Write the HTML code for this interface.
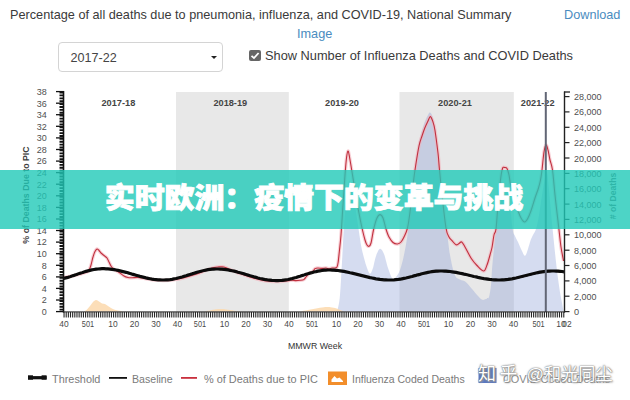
<!DOCTYPE html>
<html><head><meta charset="utf-8"><title>chart</title>
<style>
html,body{margin:0;padding:0;background:#fff;}
body{width:630px;height:400px;position:relative;overflow:hidden;font-family:"Liberation Sans","Noto Sans CJK SC",sans-serif;}
.t{position:absolute;white-space:nowrap;color:#3a3a3a;font-size:12.7px;line-height:16px;}
.lnk{color:#4a8cc0;}
#sel{position:absolute;left:58px;top:41.5px;width:163px;height:28px;border:1px solid #d4d4d4;border-radius:4px;background:#fff;}
#sel span{position:absolute;left:11.5px;top:7px;font-size:12.6px;color:#444;line-height:16px;}
#sel i{position:absolute;right:5.2px;top:13.3px;width:0;height:0;border-left:3.6px solid transparent;border-right:3.6px solid transparent;border-top:3.6px solid #222;}
#cb{position:absolute;left:249px;top:49.8px;width:12px;height:11.2px;background:#666;border-radius:2px;}
#banner{position:absolute;left:0;top:170px;width:630px;height:58.6px;background:rgba(32,201,184,0.8);text-align:center;}
#banner span{display:inline-block;line-height:58px;font-size:30px;font-weight:900;color:#fff;font-family:"Liberation Sans","Noto Sans CJK SC",sans-serif;letter-spacing:-0.12px;margin-left:-2px;-webkit-text-stroke:0.9px #fff;transform:translateY(-0.4px) scaleY(0.95);transform-origin:50% 52%;}
svg{position:absolute;left:0;top:0;}
.leg{position:absolute;top:371.6px;font-size:10.9px;color:#7a7a7a;line-height:14px;white-space:nowrap;}
#wm{position:absolute;left:478px;top:362px;font-size:18px;line-height:24px;color:#fff;white-space:nowrap;font-family:"Liberation Sans","Noto Sans CJK SC",sans-serif;text-shadow:0 0 2px #777,0 0 1px #666,1px 1px 2px #aaa;letter-spacing:0.6px;}
</style></head><body>
<div class="t" style="left:10px;top:7px;">Percentage of all deaths due to pneumonia, influenza, and COVID-19, National Summary</div>
<div class="t lnk" style="left:564px;top:7px;">Download</div>
<div class="t lnk" style="left:297px;top:26px;">Image</div>
<div id="sel"><span>2017-22</span><i></i></div>
<div id="cb"><svg width="12" height="11.2" viewBox="0 0 12 12" preserveAspectRatio="none"><path d="M2.5,6.2 L5,8.6 L9.6,3.2" fill="none" stroke="#fff" stroke-width="1.8"/></svg></div>
<div class="t" style="left:265px;top:48.1px;font-size:12.8px;">Show Number of Influenza Deaths and COVID Deaths</div>

<svg width="630" height="400" viewBox="0 0 630 400" font-family="Liberation Sans, sans-serif">
  <rect x="176" y="92" width="112.8" height="221" fill="#e8e8e8"/>
  <rect x="399.5" y="92" width="114.3" height="221" fill="#e8e8e8"/>
  <path d="M336.0,311.6C336.3,311.0 337.3,310.8 338.0,308.0C338.7,305.2 339.3,302.7 340.0,295.0C340.7,287.3 341.3,273.7 342.0,262.0C342.7,250.3 343.3,235.3 344.0,225.0C344.7,214.7 345.2,207.3 346.0,200.0C346.8,192.7 348.0,182.7 349.0,181.0C350.0,179.3 351.0,186.0 352.0,190.0C353.0,194.0 354.0,199.2 355.0,205.0C356.0,210.8 357.0,218.3 358.0,225.0C359.0,231.7 360.0,239.5 361.0,245.0C362.0,250.5 363.0,254.2 364.0,258.0C365.0,261.8 366.0,265.4 367.0,268.0C368.0,270.6 369.0,273.7 370.0,273.7C371.0,273.7 372.0,270.9 373.0,268.0C374.0,265.1 374.8,259.2 376.0,256.0C377.2,252.8 378.7,249.0 380.0,248.7C381.3,248.4 382.7,250.8 384.0,254.0C385.3,257.2 386.6,263.9 388.0,268.0C389.4,272.1 391.2,277.2 392.5,278.7C393.8,280.2 394.8,278.4 396.0,277.0C397.2,275.6 398.7,273.7 400.0,270.0C401.3,266.3 402.8,260.8 404.0,255.0C405.2,249.2 406.3,243.3 407.5,235.0C408.7,226.7 409.8,216.2 411.0,205.0C412.2,193.8 413.7,178.5 415.0,168.0C416.3,157.5 417.5,149.3 419.0,142.0C420.5,134.7 422.5,128.5 424.0,124.0C425.5,119.5 427.0,116.9 428.0,115.0C429.0,113.1 429.2,112.0 430.0,112.5C430.8,113.0 432.0,114.2 433.0,118.0C434.0,121.8 435.0,127.2 436.0,135.0C437.0,142.8 438.0,154.2 439.0,165.0C440.0,175.8 441.0,190.5 442.0,200.0C443.0,209.5 444.2,216.7 445.0,222.0C445.8,227.3 446.2,226.5 447.0,232.0C447.8,237.5 448.7,247.8 450.0,255.0C451.3,262.2 453.1,270.9 454.8,275.0C456.5,279.1 458.2,278.3 460.0,279.5C461.8,280.7 463.8,280.4 465.8,282.0C467.8,283.6 470.0,286.7 472.0,289.0C474.0,291.3 476.3,294.2 478.0,296.0C479.7,297.8 481.0,299.3 482.3,299.8C483.6,300.3 484.9,299.5 486.0,299.0C487.1,298.5 488.2,299.3 489.0,297.0C489.8,294.7 490.5,289.6 491.0,285.0C491.5,280.4 491.5,275.7 492.0,269.5C492.5,263.3 493.3,254.8 494.0,248.0C494.7,241.2 495.2,235.7 496.0,229.0C496.8,222.3 497.8,213.5 499.0,208.0C500.2,202.5 501.8,198.6 503.0,196.0C504.2,193.4 505.0,192.3 506.0,192.6C507.0,192.9 507.9,191.9 509.0,198.0C510.1,204.1 511.6,222.7 512.6,229.0C513.6,235.3 514.1,233.8 515.0,236.0C515.9,238.2 516.9,239.7 518.0,242.0C519.1,244.3 520.3,247.7 521.5,250.0C522.7,252.3 523.9,256.0 525.0,255.8C526.1,255.6 527.1,251.5 528.0,249.0C528.9,246.5 529.7,242.9 530.5,240.6C531.3,238.3 532.1,236.9 533.0,235.0C533.9,233.1 535.0,232.3 536.0,229.0C537.0,225.7 538.0,220.7 539.0,215.0C540.0,209.3 541.0,201.2 542.0,195.0C543.0,188.8 544.2,181.8 545.0,178.0C545.8,174.2 546.3,170.0 547.0,172.0C547.7,174.0 548.1,180.5 549.0,190.0C549.9,199.5 551.4,217.0 552.6,229.0C553.8,241.0 554.9,252.0 556.0,262.0C557.1,272.0 558.5,282.2 559.5,289.0C560.5,295.8 561.3,299.2 562.0,303.0C562.7,306.8 563.3,310.2 563.6,311.6Z" fill="#879bd4" fill-opacity="0.35"/>
  <path d="M84.0,311.6C84.5,311.2 86.0,310.4 87.0,309.5C88.0,308.6 89.0,307.2 90.0,306.0C91.0,304.8 92.0,303.0 93.0,302.0C94.0,301.0 95.0,300.1 96.0,300.0C97.0,299.9 98.0,300.9 99.0,301.5C100.0,302.1 101.0,303.1 102.0,303.5C103.0,303.9 104.0,303.6 105.0,304.0C106.0,304.4 107.0,305.3 108.0,306.0C109.0,306.7 110.0,307.4 111.0,308.0C112.0,308.6 112.8,309.1 114.0,309.5C115.2,309.9 116.3,310.1 118.0,310.5C119.7,310.9 123.0,311.4 124.0,311.6Z M203.0,311.6C204.2,311.4 207.8,310.9 210.0,310.5C212.2,310.1 214.0,309.6 216.0,309.3C218.0,309.1 220.0,308.9 222.0,309.0C224.0,309.1 225.7,309.5 228.0,309.8C230.3,310.1 233.7,310.7 236.0,311.0C238.3,311.3 241.0,311.5 242.0,311.6Z M300.0,311.6C301.3,311.3 305.3,310.5 308.0,310.0C310.7,309.5 313.3,309.0 316.0,308.5C318.7,308.0 321.3,307.4 324.0,307.2C326.7,307.0 329.7,307.2 332.0,307.5C334.3,307.8 336.0,308.3 338.0,309.0C340.0,309.7 343.0,311.2 344.0,311.6Z" fill="#fcd8ac" fill-opacity="0.85"/>
  <g font-size="9.7" font-weight="bold" fill="#444"><text x="101.5" y="106.3" textLength="33.8" lengthAdjust="spacingAndGlyphs">2017-18</text><text x="213.4" y="106.3" textLength="33.8" lengthAdjust="spacingAndGlyphs">2018-19</text><text x="325.1" y="106.3" textLength="33.8" lengthAdjust="spacingAndGlyphs">2019-20</text><text x="438.1" y="106.3" textLength="33.8" lengthAdjust="spacingAndGlyphs">2020-21</text><text x="520.8" y="106.3" textLength="33.8" lengthAdjust="spacingAndGlyphs">2021-22</text></g>
  <path d="M64.0,277.5C65.0,277.3 68.0,276.9 70.0,276.5C72.0,276.1 74.0,275.5 76.0,275.0C78.0,274.5 80.2,274.0 82.0,273.5C83.8,273.0 85.8,272.5 87.0,272.0C88.2,271.5 88.3,271.7 89.0,270.5C89.7,269.3 90.3,267.2 91.0,265.0C91.7,262.8 92.3,259.2 93.0,257.0C93.7,254.8 94.3,252.8 95.0,251.5C95.7,250.2 96.3,249.2 97.0,249.0C97.7,248.8 98.3,249.8 99.0,250.5C99.7,251.2 100.2,252.2 101.0,253.0C101.8,253.8 103.0,254.7 104.0,255.5C105.0,256.3 106.2,256.9 107.0,258.0C107.8,259.1 108.3,260.7 109.0,262.0C109.7,263.3 110.3,264.9 111.0,266.0C111.7,267.1 112.2,267.8 113.0,268.5C113.8,269.2 114.8,269.8 116.0,270.5C117.2,271.2 118.7,272.1 120.0,273.0C121.3,273.9 122.7,275.2 124.0,276.0C125.3,276.8 126.7,277.2 128.0,277.5C129.3,277.8 130.3,277.7 132.0,277.7C133.7,277.7 135.8,277.4 138.0,277.5C140.2,277.6 142.2,278.1 145.0,278.5C147.8,278.9 151.8,279.7 155.0,280.0C158.2,280.3 160.7,280.6 164.0,280.5C167.3,280.4 171.5,280.0 175.0,279.5C178.5,279.0 181.7,278.3 185.0,277.5C188.3,276.7 191.7,275.6 195.0,274.5C198.3,273.4 202.5,271.6 205.0,270.6C207.5,269.7 208.5,269.3 210.0,268.8C211.5,268.3 212.7,267.9 214.0,267.6C215.3,267.3 216.7,267.1 218.0,267.0C219.3,266.9 220.7,266.7 222.0,266.8C223.3,266.9 224.7,267.3 226.0,267.8C227.3,268.3 228.5,269.0 230.0,269.6C231.5,270.2 233.3,270.9 235.0,271.5C236.7,272.1 237.5,272.6 240.0,273.5C242.5,274.4 246.7,275.9 250.0,277.0C253.3,278.1 256.7,279.1 260.0,279.8C263.3,280.5 266.7,281.0 270.0,281.3C273.3,281.6 277.0,281.6 280.0,281.5C283.0,281.4 286.0,280.8 288.0,280.6C290.0,280.4 290.7,280.2 292.0,280.2C293.3,280.2 294.7,280.6 296.0,280.6C297.3,280.6 298.7,280.5 300.0,280.3C301.3,280.1 303.0,279.9 304.0,279.4C305.0,278.8 305.3,277.8 306.0,277.0C306.7,276.2 307.3,275.2 308.0,274.5C308.7,273.8 309.2,273.5 310.0,273.0C310.8,272.5 312.2,272.0 313.0,271.3C313.8,270.6 314.2,269.2 315.0,268.6C315.8,268.1 316.8,268.0 318.0,268.0C319.2,268.0 320.7,268.4 322.0,268.4C323.3,268.4 324.8,267.9 326.0,268.0C327.2,268.1 328.0,268.8 329.0,268.8C330.0,268.8 331.0,268.1 332.0,268.0C333.0,267.9 334.2,268.2 335.0,268.0C335.8,267.8 336.5,268.0 337.0,267.0C337.5,266.0 337.8,264.8 338.2,262.0C338.6,259.2 339.0,254.5 339.5,250.0C340.0,245.5 340.4,242.5 341.0,235.0C341.6,227.5 342.3,215.0 343.0,205.0C343.7,195.0 344.4,182.8 345.0,175.0C345.6,167.2 346.0,162.0 346.5,158.0C347.0,154.0 347.5,151.2 348.0,151.0C348.5,150.8 348.9,153.8 349.5,157.0C350.1,160.2 350.8,164.5 351.7,170.0C352.6,175.5 353.9,183.7 355.0,190.0C356.1,196.3 356.8,201.7 358.0,208.0C359.2,214.3 360.8,222.7 362.0,228.0C363.2,233.3 364.2,237.2 365.0,240.0C365.8,242.8 366.3,243.9 367.0,245.0C367.7,246.1 368.3,246.6 369.0,246.3C369.7,246.0 370.2,245.9 371.0,243.0C371.8,240.1 372.7,233.2 373.7,229.0C374.7,224.8 375.9,220.4 377.0,218.0C378.1,215.6 379.0,214.6 380.0,214.6C381.0,214.6 382.0,215.6 383.0,218.0C384.0,220.4 385.0,225.8 386.0,229.0C387.0,232.2 387.8,234.8 389.0,237.0C390.2,239.2 391.6,241.3 393.0,242.5C394.4,243.7 396.2,244.1 397.5,244.0C398.8,243.9 399.9,243.2 401.0,242.0C402.1,240.8 402.9,239.3 404.0,237.0C405.1,234.7 406.5,232.2 407.5,228.0C408.5,223.8 409.2,218.3 410.0,212.0C410.8,205.7 411.7,197.0 412.5,190.0C413.3,183.0 413.9,177.3 415.0,170.0C416.1,162.7 417.8,151.7 419.0,146.0C420.2,140.3 421.0,139.0 422.0,136.0C423.0,133.0 423.8,130.5 424.8,128.0C425.8,125.5 427.1,122.9 428.0,121.0C428.9,119.1 429.6,116.4 430.4,116.6C431.2,116.8 432.2,119.7 433.0,122.0C433.8,124.3 434.2,125.3 435.0,130.5C435.8,135.7 437.2,146.4 438.0,153.0C438.8,159.6 438.8,163.0 439.5,170.0C440.2,177.0 440.9,185.3 442.0,195.0C443.1,204.7 444.8,221.0 446.0,228.0C447.2,235.0 448.0,234.9 449.0,237.0C450.0,239.1 450.8,239.3 452.0,240.6C453.2,241.9 454.8,244.3 456.0,244.8C457.2,245.3 458.1,244.0 459.0,243.5C459.9,243.0 460.7,241.4 461.7,242.0C462.7,242.6 463.4,244.2 465.0,247.0C466.6,249.8 469.3,255.4 471.3,258.5C473.3,261.6 474.9,263.4 477.0,265.5C479.1,267.6 482.0,271.1 483.7,271.0C485.4,270.9 485.9,267.7 487.0,265.0C488.1,262.3 489.2,257.9 490.0,255.0C490.8,252.1 491.3,250.8 492.0,247.5C492.7,244.2 493.3,238.1 494.0,235.0C494.7,231.9 495.3,234.0 496.0,229.0C496.7,224.0 497.2,213.2 498.0,205.0C498.8,196.8 499.8,186.1 500.5,180.0C501.2,173.9 501.8,170.6 502.5,168.5C503.2,166.4 503.9,167.5 504.7,167.5C505.4,167.5 506.3,167.2 507.0,168.5C507.7,169.8 508.4,172.2 509.0,175.0C509.6,177.8 509.8,181.2 510.6,185.0C511.4,188.8 512.8,193.7 514.0,198.0C515.2,202.3 516.8,207.5 518.0,210.8C519.2,214.1 519.9,216.1 521.0,218.0C522.1,219.9 523.4,222.0 524.6,222.0C525.8,222.0 526.9,219.9 528.0,218.0C529.1,216.1 529.8,214.1 531.0,210.8C532.2,207.5 533.8,201.8 535.0,198.0C536.2,194.2 537.6,191.0 538.5,188.0C539.4,185.0 539.9,183.0 540.5,180.0C541.1,177.0 541.4,174.7 542.0,170.0C542.6,165.3 543.3,156.2 544.0,152.0C544.7,147.8 545.3,145.3 546.0,145.0C546.7,144.7 547.3,147.5 548.0,150.0C548.7,152.5 549.2,156.7 550.0,160.0C550.8,163.3 551.7,164.2 552.5,170.0C553.3,175.8 554.0,185.3 555.0,195.0C556.0,204.7 557.8,219.3 558.8,228.0C559.8,236.7 560.2,241.5 561.0,247.0C561.8,252.5 563.2,258.7 563.6,261.0" fill="none" stroke="#f4b0ba" stroke-width="3.4" stroke-opacity="0.6" stroke-linejoin="round"/>
  <path d="M64.0,277.5C65.0,277.3 68.0,276.9 70.0,276.5C72.0,276.1 74.0,275.5 76.0,275.0C78.0,274.5 80.2,274.0 82.0,273.5C83.8,273.0 85.8,272.5 87.0,272.0C88.2,271.5 88.3,271.7 89.0,270.5C89.7,269.3 90.3,267.2 91.0,265.0C91.7,262.8 92.3,259.2 93.0,257.0C93.7,254.8 94.3,252.8 95.0,251.5C95.7,250.2 96.3,249.2 97.0,249.0C97.7,248.8 98.3,249.8 99.0,250.5C99.7,251.2 100.2,252.2 101.0,253.0C101.8,253.8 103.0,254.7 104.0,255.5C105.0,256.3 106.2,256.9 107.0,258.0C107.8,259.1 108.3,260.7 109.0,262.0C109.7,263.3 110.3,264.9 111.0,266.0C111.7,267.1 112.2,267.8 113.0,268.5C113.8,269.2 114.8,269.8 116.0,270.5C117.2,271.2 118.7,272.1 120.0,273.0C121.3,273.9 122.7,275.2 124.0,276.0C125.3,276.8 126.7,277.2 128.0,277.5C129.3,277.8 130.3,277.7 132.0,277.7C133.7,277.7 135.8,277.4 138.0,277.5C140.2,277.6 142.2,278.1 145.0,278.5C147.8,278.9 151.8,279.7 155.0,280.0C158.2,280.3 160.7,280.6 164.0,280.5C167.3,280.4 171.5,280.0 175.0,279.5C178.5,279.0 181.7,278.3 185.0,277.5C188.3,276.7 191.7,275.6 195.0,274.5C198.3,273.4 202.5,271.6 205.0,270.6C207.5,269.7 208.5,269.3 210.0,268.8C211.5,268.3 212.7,267.9 214.0,267.6C215.3,267.3 216.7,267.1 218.0,267.0C219.3,266.9 220.7,266.7 222.0,266.8C223.3,266.9 224.7,267.3 226.0,267.8C227.3,268.3 228.5,269.0 230.0,269.6C231.5,270.2 233.3,270.9 235.0,271.5C236.7,272.1 237.5,272.6 240.0,273.5C242.5,274.4 246.7,275.9 250.0,277.0C253.3,278.1 256.7,279.1 260.0,279.8C263.3,280.5 266.7,281.0 270.0,281.3C273.3,281.6 277.0,281.6 280.0,281.5C283.0,281.4 286.0,280.8 288.0,280.6C290.0,280.4 290.7,280.2 292.0,280.2C293.3,280.2 294.7,280.6 296.0,280.6C297.3,280.6 298.7,280.5 300.0,280.3C301.3,280.1 303.0,279.9 304.0,279.4C305.0,278.8 305.3,277.8 306.0,277.0C306.7,276.2 307.3,275.2 308.0,274.5C308.7,273.8 309.2,273.5 310.0,273.0C310.8,272.5 312.2,272.0 313.0,271.3C313.8,270.6 314.2,269.2 315.0,268.6C315.8,268.1 316.8,268.0 318.0,268.0C319.2,268.0 320.7,268.4 322.0,268.4C323.3,268.4 324.8,267.9 326.0,268.0C327.2,268.1 328.0,268.8 329.0,268.8C330.0,268.8 331.0,268.1 332.0,268.0C333.0,267.9 334.2,268.2 335.0,268.0C335.8,267.8 336.5,268.0 337.0,267.0C337.5,266.0 337.8,264.8 338.2,262.0C338.6,259.2 339.0,254.5 339.5,250.0C340.0,245.5 340.4,242.5 341.0,235.0C341.6,227.5 342.3,215.0 343.0,205.0C343.7,195.0 344.4,182.8 345.0,175.0C345.6,167.2 346.0,162.0 346.5,158.0C347.0,154.0 347.5,151.2 348.0,151.0C348.5,150.8 348.9,153.8 349.5,157.0C350.1,160.2 350.8,164.5 351.7,170.0C352.6,175.5 353.9,183.7 355.0,190.0C356.1,196.3 356.8,201.7 358.0,208.0C359.2,214.3 360.8,222.7 362.0,228.0C363.2,233.3 364.2,237.2 365.0,240.0C365.8,242.8 366.3,243.9 367.0,245.0C367.7,246.1 368.3,246.6 369.0,246.3C369.7,246.0 370.2,245.9 371.0,243.0C371.8,240.1 372.7,233.2 373.7,229.0C374.7,224.8 375.9,220.4 377.0,218.0C378.1,215.6 379.0,214.6 380.0,214.6C381.0,214.6 382.0,215.6 383.0,218.0C384.0,220.4 385.0,225.8 386.0,229.0C387.0,232.2 387.8,234.8 389.0,237.0C390.2,239.2 391.6,241.3 393.0,242.5C394.4,243.7 396.2,244.1 397.5,244.0C398.8,243.9 399.9,243.2 401.0,242.0C402.1,240.8 402.9,239.3 404.0,237.0C405.1,234.7 406.5,232.2 407.5,228.0C408.5,223.8 409.2,218.3 410.0,212.0C410.8,205.7 411.7,197.0 412.5,190.0C413.3,183.0 413.9,177.3 415.0,170.0C416.1,162.7 417.8,151.7 419.0,146.0C420.2,140.3 421.0,139.0 422.0,136.0C423.0,133.0 423.8,130.5 424.8,128.0C425.8,125.5 427.1,122.9 428.0,121.0C428.9,119.1 429.6,116.4 430.4,116.6C431.2,116.8 432.2,119.7 433.0,122.0C433.8,124.3 434.2,125.3 435.0,130.5C435.8,135.7 437.2,146.4 438.0,153.0C438.8,159.6 438.8,163.0 439.5,170.0C440.2,177.0 440.9,185.3 442.0,195.0C443.1,204.7 444.8,221.0 446.0,228.0C447.2,235.0 448.0,234.9 449.0,237.0C450.0,239.1 450.8,239.3 452.0,240.6C453.2,241.9 454.8,244.3 456.0,244.8C457.2,245.3 458.1,244.0 459.0,243.5C459.9,243.0 460.7,241.4 461.7,242.0C462.7,242.6 463.4,244.2 465.0,247.0C466.6,249.8 469.3,255.4 471.3,258.5C473.3,261.6 474.9,263.4 477.0,265.5C479.1,267.6 482.0,271.1 483.7,271.0C485.4,270.9 485.9,267.7 487.0,265.0C488.1,262.3 489.2,257.9 490.0,255.0C490.8,252.1 491.3,250.8 492.0,247.5C492.7,244.2 493.3,238.1 494.0,235.0C494.7,231.9 495.3,234.0 496.0,229.0C496.7,224.0 497.2,213.2 498.0,205.0C498.8,196.8 499.8,186.1 500.5,180.0C501.2,173.9 501.8,170.6 502.5,168.5C503.2,166.4 503.9,167.5 504.7,167.5C505.4,167.5 506.3,167.2 507.0,168.5C507.7,169.8 508.4,172.2 509.0,175.0C509.6,177.8 509.8,181.2 510.6,185.0C511.4,188.8 512.8,193.7 514.0,198.0C515.2,202.3 516.8,207.5 518.0,210.8C519.2,214.1 519.9,216.1 521.0,218.0C522.1,219.9 523.4,222.0 524.6,222.0C525.8,222.0 526.9,219.9 528.0,218.0C529.1,216.1 529.8,214.1 531.0,210.8C532.2,207.5 533.8,201.8 535.0,198.0C536.2,194.2 537.6,191.0 538.5,188.0C539.4,185.0 539.9,183.0 540.5,180.0C541.1,177.0 541.4,174.7 542.0,170.0C542.6,165.3 543.3,156.2 544.0,152.0C544.7,147.8 545.3,145.3 546.0,145.0C546.7,144.7 547.3,147.5 548.0,150.0C548.7,152.5 549.2,156.7 550.0,160.0C550.8,163.3 551.7,164.2 552.5,170.0C553.3,175.8 554.0,185.3 555.0,195.0C556.0,204.7 557.8,219.3 558.8,228.0C559.8,236.7 560.2,241.5 561.0,247.0C561.8,252.5 563.2,258.7 563.6,261.0" fill="none" stroke="#c0303e" stroke-width="1.1" stroke-linejoin="round"/>
  <path d="M64.0,279.3 L66.0,278.8 L68.0,278.3 L70.0,277.7 L72.0,277.0 L74.0,276.4 L76.0,275.7 L78.0,275.0 L80.0,274.3 L82.0,273.7 L84.0,273.0 L86.0,272.4 L88.0,271.9 L90.0,271.4 L92.0,270.9 L94.0,270.5 L96.0,270.2 L98.0,270.0 L100.0,269.8 L102.0,269.7 L104.0,269.7 L106.0,269.8 L108.0,269.9 L110.0,270.1 L112.0,270.3 L114.0,270.6 L116.0,271.0 L118.0,271.4 L120.0,271.8 L122.0,272.3 L124.0,272.8 L126.0,273.3 L128.0,273.9 L130.0,274.5 L132.0,275.1 L134.0,275.6 L136.0,276.2 L138.0,276.8 L140.0,277.4 L142.0,277.9 L144.0,278.4 L146.0,278.9 L148.0,279.3 L150.0,279.7 L152.0,280.1 L154.0,280.4 L156.0,280.6 L158.0,280.8 L160.0,280.9 L162.0,281.0 L164.0,281.0 L166.0,280.9 L168.0,280.8 L170.0,280.6 L172.0,280.3 L174.0,279.9 L176.0,279.5 L178.0,279.0 L180.0,278.5 L182.0,278.0 L184.0,277.4 L186.0,276.8 L188.0,276.1 L190.0,275.5 L192.0,274.9 L194.0,274.2 L196.0,273.6 L198.0,273.0 L200.0,272.5 L202.0,272.0 L204.0,271.5 L206.0,271.1 L208.0,270.7 L210.0,270.4 L212.0,270.2 L214.0,270.1 L216.0,270.0 L218.0,270.0 L220.0,270.1 L222.0,270.2 L224.0,270.4 L226.0,270.6 L228.0,270.9 L230.0,271.3 L232.0,271.7 L234.0,272.1 L236.0,272.6 L238.0,273.2 L240.0,273.7 L242.0,274.3 L244.0,274.9 L246.0,275.5 L248.0,276.1 L250.0,276.7 L252.0,277.3 L254.0,277.9 L256.0,278.4 L258.0,279.0 L260.0,279.5 L262.0,279.9 L264.0,280.3 L266.0,280.7 L268.0,281.0 L270.0,281.2 L272.0,281.4 L274.0,281.5 L276.0,281.6 L278.0,281.6 L280.0,281.5 L282.0,281.4 L284.0,281.1 L286.0,280.8 L288.0,280.5 L290.0,280.0 L292.0,279.6 L294.0,279.0 L296.0,278.5 L298.0,277.9 L300.0,277.3 L302.0,276.6 L304.0,276.0 L306.0,275.3 L308.0,274.7 L310.0,274.1 L312.0,273.6 L314.0,273.0 L316.0,272.6 L318.0,272.1 L320.0,271.8 L322.0,271.5 L324.0,271.2 L326.0,271.1 L328.0,271.0 L330.0,271.0 L332.0,271.1 L334.0,271.2 L336.0,271.3 L338.0,271.5 L340.0,271.8 L342.0,272.1 L344.0,272.4 L346.0,272.8 L348.0,273.2 L350.0,273.7 L352.0,274.1 L354.0,274.6 L356.0,275.1 L358.0,275.6 L360.0,276.1 L362.0,276.6 L364.0,277.1 L366.0,277.6 L368.0,278.1 L370.0,278.6 L372.0,279.0 L374.0,279.4 L376.0,279.8 L378.0,280.1 L380.0,280.4 L382.0,280.6 L384.0,280.8 L386.0,280.9 L388.0,281.0 L390.0,281.0 L392.0,281.0 L394.0,280.9 L396.0,280.7 L398.0,280.5 L400.0,280.2 L402.0,279.8 L404.0,279.4 L406.0,279.0 L408.0,278.5 L410.0,278.0 L412.0,277.5 L414.0,276.9 L416.0,276.4 L418.0,275.8 L420.0,275.3 L422.0,274.7 L424.0,274.2 L426.0,273.8 L428.0,273.4 L430.0,273.0 L432.0,272.7 L434.0,272.4 L436.0,272.2 L438.0,272.1 L440.0,272.0 L442.0,272.0 L444.0,272.1 L446.0,272.2 L448.0,272.3 L450.0,272.5 L452.0,272.8 L454.0,273.1 L456.0,273.4 L458.0,273.8 L460.0,274.2 L462.0,274.6 L464.0,275.1 L466.0,275.5 L468.0,276.0 L470.0,276.5 L472.0,277.0 L474.0,277.5 L476.0,277.9 L478.0,278.4 L480.0,278.8 L482.0,279.2 L484.0,279.6 L486.0,279.9 L488.0,280.2 L490.0,280.5 L492.0,280.7 L494.0,280.8 L496.0,280.9 L498.0,281.0 L500.0,281.0 L502.0,280.9 L504.0,280.8 L506.0,280.6 L508.0,280.4 L510.0,280.1 L512.0,279.8 L514.0,279.4 L516.0,279.0 L518.0,278.5 L520.0,278.0 L522.0,277.5 L524.0,277.0 L526.0,276.5 L528.0,276.0 L530.0,275.5 L532.0,275.0 L534.0,274.5 L536.0,274.0 L538.0,273.6 L540.0,273.2 L542.0,272.9 L544.0,272.6 L546.0,272.4 L548.0,272.2 L550.0,272.1 L552.0,272.0 L554.0,272.0 L556.0,272.1 L558.0,272.2 L560.0,272.3 L562.0,272.5 L564.0,272.8" fill="none" stroke="#111" stroke-width="1.2"/>
  <path d="M64.0,278.0 L66.0,277.5 L68.0,277.0 L70.0,276.4 L72.0,275.7 L74.0,275.1 L76.0,274.4 L78.0,273.7 L80.0,273.0 L82.0,272.4 L84.0,271.7 L86.0,271.1 L88.0,270.6 L90.0,270.1 L92.0,269.6 L94.0,269.2 L96.0,268.9 L98.0,268.7 L100.0,268.5 L102.0,268.4 L104.0,268.4 L106.0,268.5 L108.0,268.6 L110.0,268.8 L112.0,269.0 L114.0,269.3 L116.0,269.7 L118.0,270.1 L120.0,270.5 L122.0,271.0 L124.0,271.5 L126.0,272.0 L128.0,272.6 L130.0,273.2 L132.0,273.8 L134.0,274.3 L136.0,274.9 L138.0,275.5 L140.0,276.1 L142.0,276.6 L144.0,277.1 L146.0,277.6 L148.0,278.0 L150.0,278.4 L152.0,278.8 L154.0,279.1 L156.0,279.3 L158.0,279.5 L160.0,279.6 L162.0,279.7 L164.0,279.7 L166.0,279.6 L168.0,279.5 L170.0,279.3 L172.0,279.0 L174.0,278.6 L176.0,278.2 L178.0,277.7 L180.0,277.2 L182.0,276.7 L184.0,276.1 L186.0,275.5 L188.0,274.8 L190.0,274.2 L192.0,273.6 L194.0,272.9 L196.0,272.3 L198.0,271.7 L200.0,271.2 L202.0,270.7 L204.0,270.2 L206.0,269.8 L208.0,269.4 L210.0,269.1 L212.0,268.9 L214.0,268.8 L216.0,268.7 L218.0,268.7 L220.0,268.8 L222.0,268.9 L224.0,269.1 L226.0,269.3 L228.0,269.6 L230.0,270.0 L232.0,270.4 L234.0,270.8 L236.0,271.3 L238.0,271.9 L240.0,272.4 L242.0,273.0 L244.0,273.6 L246.0,274.2 L248.0,274.8 L250.0,275.4 L252.0,276.0 L254.0,276.6 L256.0,277.1 L258.0,277.7 L260.0,278.2 L262.0,278.6 L264.0,279.0 L266.0,279.4 L268.0,279.7 L270.0,279.9 L272.0,280.1 L274.0,280.2 L276.0,280.3 L278.0,280.3 L280.0,280.2 L282.0,280.1 L284.0,279.8 L286.0,279.5 L288.0,279.2 L290.0,278.7 L292.0,278.3 L294.0,277.7 L296.0,277.2 L298.0,276.6 L300.0,276.0 L302.0,275.3 L304.0,274.7 L306.0,274.0 L308.0,273.4 L310.0,272.8 L312.0,272.3 L314.0,271.7 L316.0,271.3 L318.0,270.8 L320.0,270.5 L322.0,270.2 L324.0,269.9 L326.0,269.8 L328.0,269.7 L330.0,269.7 L332.0,269.8 L334.0,269.9 L336.0,270.0 L338.0,270.2 L340.0,270.5 L342.0,270.8 L344.0,271.1 L346.0,271.5 L348.0,271.9 L350.0,272.4 L352.0,272.8 L354.0,273.3 L356.0,273.8 L358.0,274.3 L360.0,274.8 L362.0,275.3 L364.0,275.8 L366.0,276.3 L368.0,276.8 L370.0,277.3 L372.0,277.7 L374.0,278.1 L376.0,278.5 L378.0,278.8 L380.0,279.1 L382.0,279.3 L384.0,279.5 L386.0,279.6 L388.0,279.7 L390.0,279.7 L392.0,279.7 L394.0,279.6 L396.0,279.4 L398.0,279.2 L400.0,278.9 L402.0,278.5 L404.0,278.1 L406.0,277.7 L408.0,277.2 L410.0,276.7 L412.0,276.2 L414.0,275.6 L416.0,275.1 L418.0,274.5 L420.0,274.0 L422.0,273.4 L424.0,272.9 L426.0,272.5 L428.0,272.1 L430.0,271.7 L432.0,271.4 L434.0,271.1 L436.0,270.9 L438.0,270.8 L440.0,270.7 L442.0,270.7 L444.0,270.8 L446.0,270.9 L448.0,271.0 L450.0,271.2 L452.0,271.5 L454.0,271.8 L456.0,272.1 L458.0,272.5 L460.0,272.9 L462.0,273.3 L464.0,273.8 L466.0,274.2 L468.0,274.7 L470.0,275.2 L472.0,275.7 L474.0,276.2 L476.0,276.6 L478.0,277.1 L480.0,277.5 L482.0,277.9 L484.0,278.3 L486.0,278.6 L488.0,278.9 L490.0,279.2 L492.0,279.4 L494.0,279.5 L496.0,279.6 L498.0,279.7 L500.0,279.7 L502.0,279.6 L504.0,279.5 L506.0,279.3 L508.0,279.1 L510.0,278.8 L512.0,278.5 L514.0,278.1 L516.0,277.7 L518.0,277.2 L520.0,276.7 L522.0,276.2 L524.0,275.7 L526.0,275.2 L528.0,274.7 L530.0,274.2 L532.0,273.7 L534.0,273.2 L536.0,272.7 L538.0,272.3 L540.0,271.9 L542.0,271.6 L544.0,271.3 L546.0,271.1 L548.0,270.9 L550.0,270.8 L552.0,270.7 L554.0,270.7 L556.0,270.8 L558.0,270.9 L560.0,271.0 L562.0,271.2 L564.0,271.5" fill="none" stroke="#0a0a0a" stroke-width="2.6"/>
  <rect x="544.8" y="92" width="2" height="220" fill="#626675"/>
  <!-- left axis -->
  <line x1="63.5" y1="91" x2="63.5" y2="312.5" stroke="#111" stroke-width="1.6"/>
  <line x1="61.5" y1="91.6" x2="61.5" y2="312" stroke="#111" stroke-width="4" stroke-dasharray="1.85 1.045"/>
  <g stroke="#111" stroke-width="1.3"><line x1="56" y1="311.6" x2="64" y2="311.6"/><line x1="56" y1="300.0" x2="64" y2="300.0"/><line x1="56" y1="288.4" x2="64" y2="288.4"/><line x1="56" y1="276.9" x2="64" y2="276.9"/><line x1="56" y1="265.3" x2="64" y2="265.3"/><line x1="56" y1="253.7" x2="64" y2="253.7"/><line x1="56" y1="242.1" x2="64" y2="242.1"/><line x1="56" y1="230.5" x2="64" y2="230.5"/><line x1="56" y1="219.0" x2="64" y2="219.0"/><line x1="56" y1="207.4" x2="64" y2="207.4"/><line x1="56" y1="195.8" x2="64" y2="195.8"/><line x1="56" y1="184.2" x2="64" y2="184.2"/><line x1="56" y1="172.6" x2="64" y2="172.6"/><line x1="56" y1="161.1" x2="64" y2="161.1"/><line x1="56" y1="149.5" x2="64" y2="149.5"/><line x1="56" y1="137.9" x2="64" y2="137.9"/><line x1="56" y1="126.3" x2="64" y2="126.3"/><line x1="56" y1="114.7" x2="64" y2="114.7"/><line x1="56" y1="103.2" x2="64" y2="103.2"/><line x1="56" y1="91.6" x2="64" y2="91.6"/></g>
  <g font-size="9.5" fill="#505050"><text x="41.8" y="314.9" textLength="5.0" lengthAdjust="spacingAndGlyphs">0</text><text x="41.8" y="303.3" textLength="5.0" lengthAdjust="spacingAndGlyphs">2</text><text x="41.8" y="291.7" textLength="5.0" lengthAdjust="spacingAndGlyphs">4</text><text x="41.8" y="280.2" textLength="5.0" lengthAdjust="spacingAndGlyphs">6</text><text x="41.8" y="268.6" textLength="5.0" lengthAdjust="spacingAndGlyphs">8</text><text x="36.8" y="257.0" textLength="10.0" lengthAdjust="spacingAndGlyphs">10</text><text x="36.8" y="245.4" textLength="10.0" lengthAdjust="spacingAndGlyphs">12</text><text x="36.8" y="233.8" textLength="10.0" lengthAdjust="spacingAndGlyphs">14</text><text x="36.8" y="222.3" textLength="10.0" lengthAdjust="spacingAndGlyphs">16</text><text x="36.8" y="210.7" textLength="10.0" lengthAdjust="spacingAndGlyphs">18</text><text x="36.8" y="199.1" textLength="10.0" lengthAdjust="spacingAndGlyphs">20</text><text x="36.8" y="187.5" textLength="10.0" lengthAdjust="spacingAndGlyphs">22</text><text x="36.8" y="175.9" textLength="10.0" lengthAdjust="spacingAndGlyphs">24</text><text x="36.8" y="164.4" textLength="10.0" lengthAdjust="spacingAndGlyphs">26</text><text x="36.8" y="152.8" textLength="10.0" lengthAdjust="spacingAndGlyphs">28</text><text x="36.8" y="141.2" textLength="10.0" lengthAdjust="spacingAndGlyphs">30</text><text x="36.8" y="129.6" textLength="10.0" lengthAdjust="spacingAndGlyphs">32</text><text x="36.8" y="118.0" textLength="10.0" lengthAdjust="spacingAndGlyphs">34</text><text x="36.8" y="106.5" textLength="10.0" lengthAdjust="spacingAndGlyphs">36</text><text x="36.8" y="94.9" textLength="10.0" lengthAdjust="spacingAndGlyphs">38</text></g>
  <!-- bottom axis -->
  <line x1="63" y1="311.9" x2="565" y2="311.9" stroke="#222" stroke-width="1"/>
  <line x1="63.5" y1="314.7" x2="565" y2="314.7" stroke="#262626" stroke-width="5.6" stroke-dasharray="1.1 1.054"/>
  <g font-size="9.4" fill="#4a4a4a"><text x="59.3" y="326.7" textLength="9.4" lengthAdjust="spacingAndGlyphs">40</text><text x="81.8" y="326.7" textLength="12.3" lengthAdjust="spacingAndGlyphs">501</text><text x="108.3" y="326.7" textLength="9.4" lengthAdjust="spacingAndGlyphs">10</text><text x="129.8" y="326.7" textLength="9.4" lengthAdjust="spacingAndGlyphs">20</text><text x="151.3" y="326.7" textLength="9.4" lengthAdjust="spacingAndGlyphs">30</text><text x="172.8" y="326.7" textLength="9.4" lengthAdjust="spacingAndGlyphs">40</text><text x="193.8" y="326.7" textLength="12.3" lengthAdjust="spacingAndGlyphs">501</text><text x="219.8" y="326.7" textLength="9.4" lengthAdjust="spacingAndGlyphs">10</text><text x="241.3" y="326.7" textLength="9.4" lengthAdjust="spacingAndGlyphs">20</text><text x="262.8" y="326.7" textLength="9.4" lengthAdjust="spacingAndGlyphs">30</text><text x="284.3" y="326.7" textLength="9.4" lengthAdjust="spacingAndGlyphs">40</text><text x="305.9" y="326.7" textLength="12.3" lengthAdjust="spacingAndGlyphs">501</text><text x="331.8" y="326.7" textLength="9.4" lengthAdjust="spacingAndGlyphs">10</text><text x="353.3" y="326.7" textLength="9.4" lengthAdjust="spacingAndGlyphs">20</text><text x="374.8" y="326.7" textLength="9.4" lengthAdjust="spacingAndGlyphs">30</text><text x="396.3" y="326.7" textLength="9.4" lengthAdjust="spacingAndGlyphs">40</text><text x="417.9" y="326.7" textLength="12.3" lengthAdjust="spacingAndGlyphs">501</text><text x="443.8" y="326.7" textLength="9.4" lengthAdjust="spacingAndGlyphs">10</text><text x="465.8" y="326.7" textLength="9.4" lengthAdjust="spacingAndGlyphs">20</text><text x="487.3" y="326.7" textLength="9.4" lengthAdjust="spacingAndGlyphs">30</text><text x="508.8" y="326.7" textLength="9.4" lengthAdjust="spacingAndGlyphs">40</text><text x="532.4" y="326.7" textLength="12.3" lengthAdjust="spacingAndGlyphs">501</text><text x="556.3" y="326.7" textLength="9.4" lengthAdjust="spacingAndGlyphs">10</text><text x="562.3" y="326.7" textLength="9.4" lengthAdjust="spacingAndGlyphs">02</text></g>
  <!-- right axis -->
  <line x1="564.5" y1="91.5" x2="564.5" y2="312.5" stroke="#222" stroke-width="1.4"/>
  <line x1="564" y1="92" x2="570" y2="92" stroke="#222" stroke-width="1.3"/>
  <g stroke="#222" stroke-width="1.2"><line x1="564" y1="311.6" x2="569.5" y2="311.6"/><line x1="564" y1="296.2" x2="569.5" y2="296.2"/><line x1="564" y1="280.9" x2="569.5" y2="280.9"/><line x1="564" y1="265.5" x2="569.5" y2="265.5"/><line x1="564" y1="250.2" x2="569.5" y2="250.2"/><line x1="564" y1="234.8" x2="569.5" y2="234.8"/><line x1="564" y1="219.4" x2="569.5" y2="219.4"/><line x1="564" y1="204.1" x2="569.5" y2="204.1"/><line x1="564" y1="188.7" x2="569.5" y2="188.7"/><line x1="564" y1="173.4" x2="569.5" y2="173.4"/><line x1="564" y1="158.0" x2="569.5" y2="158.0"/><line x1="564" y1="142.6" x2="569.5" y2="142.6"/><line x1="564" y1="127.3" x2="569.5" y2="127.3"/><line x1="564" y1="111.9" x2="569.5" y2="111.9"/><line x1="564" y1="96.6" x2="569.5" y2="96.6"/></g>
  <g font-size="9.8" fill="#4f4f4f"><text x="574" y="315.1" textLength="5.1" lengthAdjust="spacingAndGlyphs">0</text><text x="574" y="299.7" textLength="22.4" lengthAdjust="spacingAndGlyphs">2,000</text><text x="574" y="284.4" textLength="22.4" lengthAdjust="spacingAndGlyphs">4,000</text><text x="574" y="269.0" textLength="22.4" lengthAdjust="spacingAndGlyphs">6,000</text><text x="574" y="253.7" textLength="22.4" lengthAdjust="spacingAndGlyphs">8,000</text><text x="574" y="238.3" textLength="27.5" lengthAdjust="spacingAndGlyphs">10,000</text><text x="574" y="222.9" textLength="27.5" lengthAdjust="spacingAndGlyphs">12,000</text><text x="574" y="207.6" textLength="27.5" lengthAdjust="spacingAndGlyphs">14,000</text><text x="574" y="192.2" textLength="27.5" lengthAdjust="spacingAndGlyphs">16,000</text><text x="574" y="176.9" textLength="27.5" lengthAdjust="spacingAndGlyphs">18,000</text><text x="574" y="161.5" textLength="27.5" lengthAdjust="spacingAndGlyphs">20,000</text><text x="574" y="146.1" textLength="27.5" lengthAdjust="spacingAndGlyphs">22,000</text><text x="574" y="130.8" textLength="27.5" lengthAdjust="spacingAndGlyphs">24,000</text><text x="574" y="115.4" textLength="27.5" lengthAdjust="spacingAndGlyphs">26,000</text><text x="574" y="100.1" textLength="27.5" lengthAdjust="spacingAndGlyphs">28,000</text></g>
  <text transform="translate(29,195) rotate(-90)" text-anchor="middle" font-size="8.8" fill="#404040" font-weight="bold">% of Deaths Due to PIC</text>
  <text transform="translate(616,196) rotate(-90)" text-anchor="middle" font-size="8.6" fill="#666" font-weight="bold"># of Deaths</text>
  <text x="315" y="349" text-anchor="middle" font-size="8.8" fill="#333">MMWR Week</text>
  <!-- legend icons -->
  <rect x="28" y="376.1" width="18.6" height="3.2" fill="#111"/><rect x="28" y="375.3" width="5" height="4.4" fill="#111"/><rect x="41.6" y="375.3" width="5" height="4.4" fill="#111"/>
  <rect x="109" y="377" width="18" height="1.8" fill="#111"/>
  <rect x="181" y="377" width="16" height="1.8" fill="#c9303e"/>
  <rect x="328" y="371.5" width="19" height="13.5" fill="#f28e2b"/>
  <path d="M331.5,382 L331.5,379.5 L334.5,376 L337,378.5 L339.5,377.5 L343,381 L343,382Z" fill="#fff"/>
  <rect x="478.5" y="368" width="18" height="15" fill="#5b78c0"/>
</svg>
<div class="leg" style="left:52px;">Threshold</div>
<div class="leg" style="left:132px;font-size:10.6px;">Baseline</div>
<div class="leg" style="left:204px;">% of Deaths due to PIC</div>
<div class="leg" style="left:352px;font-size:10.5px;">Influenza Coded Deaths</div>
<div class="leg" style="left:503px;color:#888;">COVID Coded Deaths</div>
<div id="wm"><span style="letter-spacing:3.6px;">知乎</span><span style="position:absolute;left:48.5px;top:0;font-size:17.2px;letter-spacing:0px;">@和光同尘</span></div>
<div id="banner"><span>实时欧洲：疫情下的变革与挑战</span></div>
</body></html>
